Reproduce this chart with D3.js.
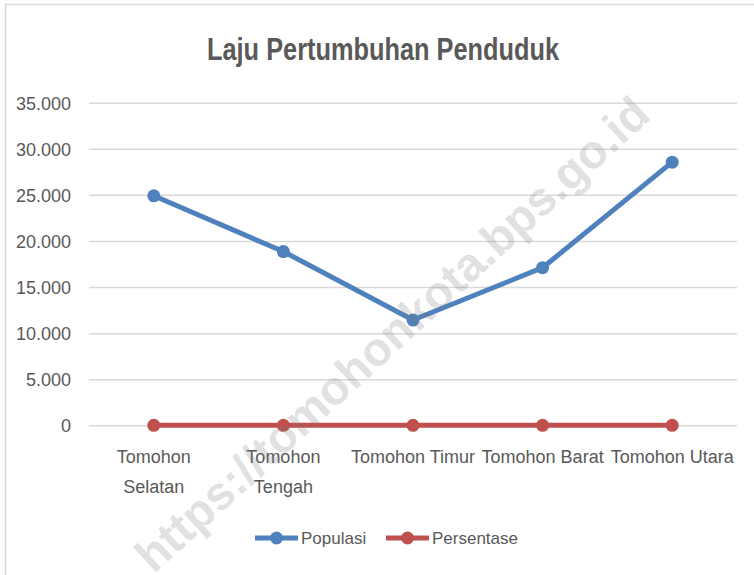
<!DOCTYPE html>
<html>
<head>
<meta charset="utf-8">
<script src="https://cdn.jsdelivr.net/npm/d3@7"></script>
<style>
  body { margin: 0; background: #fff; }
  svg text { font-family: "Liberation Sans", Arial, sans-serif; }
</style>
</head>
<body>
<svg id="chart" width="754" height="575"></svg>
<script>
// data
var kecamatan = ["Tomohon Selatan", "Tomohon Tengah", "Tomohon Timur", "Tomohon Barat", "Tomohon Utara"];
var populasi = [24900, 18850, 11420, 17100, 28550];
var persentase = [0, 0, 0, 0, 0];
var yTicks = [0, 5000, 10000, 15000, 20000, 25000, 30000, 35000];
var seriesNames = ["Populasi", "Persentase"];

{
    var margin = {top: 102.7, right: 17, bottom: 149.7, left: 89};
    var width = 754 - margin.left - margin.right;
    var height = 575 - margin.top - margin.bottom;

    var palette = {
        blue: "#4f81bd",
        red: "#c0504d",
        grid: "#d9d9d9",
        text: "#595959"
    };

    var root = d3.select("#chart");

    // chart border
    root.append("rect")
        .attr("x", 5.5).attr("y", 4.5)
        .attr("width", 800).attr("height", 700)
        .attr("fill", "none")
        .attr("stroke", palette.grid)
        .attr("stroke-width", 1.5);

    // title, squeezed to look like the condensed original
    root.append("text")
        .attr("x", 383).attr("y", 60)
        .attr("text-anchor", "middle")
        .attr("fill", palette.text)
        .attr("textLength", 352)
        .attr("lengthAdjust", "spacingAndGlyphs")
        .style("font-size", "31px")
        .style("font-weight", "bold")
        .text("Laju Pertumbuhan Penduduk");

    var svg = root.append("g")
        .attr("transform", `translate(${margin.left},${margin.top})`);

    var x = d3.scaleBand().domain(kecamatan).range([0, width]);
    var y = d3.scaleLinear().domain([0, 35000]).range([height, 0]);
    var fmt = d => d3.format(",")(d).replace(/,/g, ".");

    // gridlines + y labels
    var yAxis = svg.append("g")
        .call(d3.axisLeft(y).tickValues(yTicks).tickSize(-width).tickPadding(18).tickFormat(fmt));
    yAxis.select(".domain").remove();
    yAxis.selectAll(".tick line").attr("stroke", palette.grid).attr("stroke-width", 1.5);
    yAxis.selectAll(".tick text")
        .attr("fill", palette.text)
        .style("font-size", "18px")
        .attr("dy", "0.35em");

    // x labels (wrapped like the original)
    var xAxis = svg.append("g")
        .attr("transform", `translate(0,${height})`)
        .call(d3.axisBottom(x).tickSize(0).tickPadding(25));
    xAxis.select(".domain").remove();
    xAxis.selectAll(".tick text")
        .attr("fill", palette.text)
        .style("font-size", "18px")
        .each(function (d) {
            var t = d3.select(this);
            if (d === "Tomohon Selatan" || d === "Tomohon Tengah") {
                var parts = d.split(" ");
                t.text(null);
                parts.forEach((p, i) => t.append("tspan")
                    .attr("x", 0)
                    .attr("dy", i === 0 ? "0.71em" : "1.65em")
                    .text(p));
            }
        });

    var cx = d => x(d) + x.bandwidth() / 2;
    var series = [
        {name: seriesNames[0], values: populasi, color: palette.blue},
        {name: seriesNames[1], values: persentase, color: palette.red}
    ];

    var line = d3.line().x((v, i) => cx(kecamatan[i])).y(v => y(v));

    series.forEach(s => {
        svg.append("path")
            .datum(s.values)
            .attr("fill", "none")
            .attr("stroke", s.color)
            .attr("stroke-width", 5)
            .attr("stroke-linejoin", "round")
            .attr("d", line);
        svg.selectAll(null)
            .data(s.values)
            .enter()
            .append("circle")
            .attr("cx", (v, i) => cx(kecamatan[i]))
            .attr("cy", v => y(v))
            .attr("r", 6.5)
            .attr("fill", s.color);
    });

    // legend
    var legend = root.append("g").attr("transform", "translate(255,538)");
    var lx = [0, 131];
    series.forEach((s, i) => {
        var g = legend.append("g").attr("transform", `translate(${lx[i]},0)`);
        g.append("line")
            .attr("x1", 0).attr("x2", 43)
            .attr("stroke", s.color).attr("stroke-width", 5);
        g.append("circle").attr("cx", 21.5).attr("r", 6.5).attr("fill", s.color);
        g.append("text")
            .attr("x", 46).attr("dy", "0.35em")
            .attr("fill", palette.text)
            .style("font-size", "17px")
            .text(s.name);
    });

    // watermark
    root.append("text")
        .attr("transform", "translate(392,334) rotate(-42.5)")
        .attr("text-anchor", "middle")
        .attr("dy", "0.35em")
        .attr("fill", "rgba(120,120,120,0.24)")
        .style("font-size", "47px")
        .style("font-weight", "bold")
        .text("https://tomohonkota.bps.go.id");
}
</script>
</body>
</html>
